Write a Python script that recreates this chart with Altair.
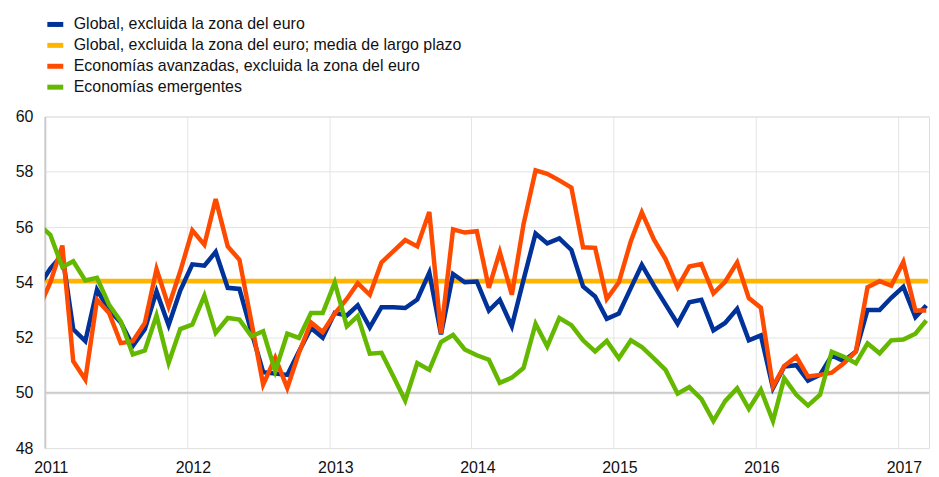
import altair as alt
import pandas as pd

# Monthly observations (mid-month), Dec 2010 (clipped at left edge) to Mar 2017
months = [(2010, 12)] + [(y, m) for y in range(2011, 2018) for m in range(1, 13)][:75]
dates = [f"{y}-{m:02d}-15" for y, m in months]

s_global = [53.8,
    54.5, 55.0, 52.3, 51.87, 53.73, 53.0, 52.55, 51.7, 52.3, 53.67, 52.45, 53.7,
    54.65, 54.6, 55.1, 53.8, 53.76, 52.2, 50.75, 50.7, 50.65, 51.5, 52.35, 52.0,
    52.9, 52.8, 53.17, 52.37, 53.1, 53.1, 53.07, 53.38, 54.35, 52.12, 54.3, 54.0,
    54.03, 52.98, 53.37, 52.41, 54.09, 55.77, 55.41, 55.59, 55.17, 53.85, 53.49, 52.68,
    52.87, 53.8, 54.63, 53.88, 53.2, 52.5, 53.28, 53.37, 52.26, 52.53, 53.04, 51.9,
    52.08, 50.17, 50.95, 51.0, 50.44, 50.65, 51.35, 51.15, 51.5, 53.0, 53.0, 53.44,
    53.84, 52.74, 53.16]

s_adv = [53.0,
    54.0, 55.33, 51.14, 50.48, 53.37, 52.89, 51.8, 51.87, 52.53, 54.48, 53.13, 54.4,
    55.88, 55.36, 57.01, 55.3, 54.82, 52.55, 50.3, 51.27, 50.18, 51.45, 52.55, 52.2,
    52.87, 53.4, 53.97, 53.55, 54.72, 55.13, 55.53, 55.3, 56.55, 52.15, 55.92, 55.8,
    55.85, 53.8, 55.1, 53.55, 56.1, 58.05, 57.93, 57.69, 57.43, 55.27, 55.25, 53.4,
    54.0, 55.5, 56.53, 55.55, 54.84, 53.82, 54.57, 54.66, 53.6, 54.02, 54.72, 53.43,
    53.08, 50.23, 50.97, 51.31, 50.59, 50.65, 50.73, 51.07, 51.49, 53.82, 54.04, 53.88,
    54.74, 52.98, 52.98]

s_em = [56.1,
    55.72, 54.55, 54.76, 54.07, 54.16, 53.19, 52.59, 51.39, 51.53, 52.8, 51.08, 52.31,
    52.47, 53.52, 52.17, 52.71, 52.65, 52.05, 52.23, 50.78, 52.14, 51.99, 52.89, 52.89,
    53.99, 52.41, 52.78, 51.42, 51.45, 50.58, 49.72, 51.08, 50.83, 51.84, 52.1, 51.57,
    51.36, 51.2, 50.36, 50.55, 50.9, 52.5, 51.68, 52.71, 52.45, 51.9, 51.5, 51.88,
    51.25, 51.9, 51.66, 51.25, 50.83, 49.97, 50.21, 49.78, 48.98, 49.7, 50.17, 49.42,
    50.11, 48.98, 50.53, 49.93, 49.54, 49.93, 51.49, 51.31, 51.07, 51.79, 51.43, 51.9,
    51.93, 52.14, 52.62]

lt_mean = 54.05

names = [
    "Global, excluida la zona del euro",
    "Global, excluida la zona del euro; media de largo plazo",
    "Economías avanzadas, excluida la zona del euro",
    "Economías emergentes",
]
colors = ["#003299", "#ffb400", "#ff4b00", "#65b800"]
y_ticks = [48, 50, 52, 54, 56, 58, 60]

FONT = "Liberation Sans"
FS = 16

rows = []
for name, series in [(names[0], s_global), (names[2], s_adv), (names[3], s_em)]:
    for d, v in zip(dates, series):
        rows.append({"date": d, "serie": name, "v": v})
df = pd.DataFrame(rows)
mean_df = pd.DataFrame({"date": [dates[0], dates[-1]], "serie": [names[1]] * 2, "v": [lt_mean] * 2})
ref_df = pd.DataFrame({"v": [50]})

xscale = alt.Scale(domain=[alt.DateTime(year=2011, month=1, date=1),
                           alt.DateTime(year=2017, month=3, date=22)])
yscale = alt.Scale(domain=[48, 60], nice=False, zero=False)
cscale = alt.Scale(domain=names, range=colors)

xax = alt.Axis(title=None, format="%Y", tickCount={"interval": "year", "step": 1},
               grid=True, gridColor="#e4e4e4", domain=False, ticks=False,
               labelFontSize=FS, labelFont=FONT, labelColor="#111111",
               labelPadding=12, labelOffset=6, labelFlush=False)
yax = alt.Axis(title=None, values=y_ticks, grid=True, gridColor="#e4e4e4",
               domainColor="#cccccc", domainWidth=2, ticks=False,
               labelFontSize=FS, labelFont=FONT, labelColor="#111111", labelPadding=12)

legend = alt.Legend(title=None, orient="none", legendX=0, legendY=-103,
                    symbolType="stroke", symbolSize=256, symbolStrokeWidth=5,
                    labelFontSize=FS, labelFont=FONT, labelColor="#111111",
                    rowPadding=-1, labelOffset=8, labelLimit=0, padding=0)

ref = alt.Chart(ref_df).mark_rule(color="#cccccc", strokeWidth=2).encode(
    y=alt.Y("v:Q", scale=yscale, axis=yax))

mean_line = alt.Chart(mean_df).mark_line(strokeWidth=4.5, clip=True, strokeCap="round").encode(
    x=alt.X("date:T", scale=xscale, axis=xax),
    y=alt.Y("v:Q", scale=yscale, axis=yax),
    color=alt.Color("serie:N", scale=cscale, legend=legend),
)

lines = alt.Chart(df).mark_line(strokeWidth=4.5, clip=True).encode(
    x=alt.X("date:T", scale=xscale, axis=xax),
    y=alt.Y("v:Q", scale=yscale, axis=yax),
    color=alt.Color("serie:N", scale=cscale, legend=legend),
)

chart = alt.layer(ref, mean_line, lines).properties(
    width=888, height=333,
    autosize=alt.AutoSizeParams(type="none"),
    padding={"left": 37, "top": 108, "right": 2, "bottom": 28},
).configure_view(stroke="transparent").configure(font=FONT)

chart.save("out.html", embed_options={"renderer": "svg", "actions": False})
